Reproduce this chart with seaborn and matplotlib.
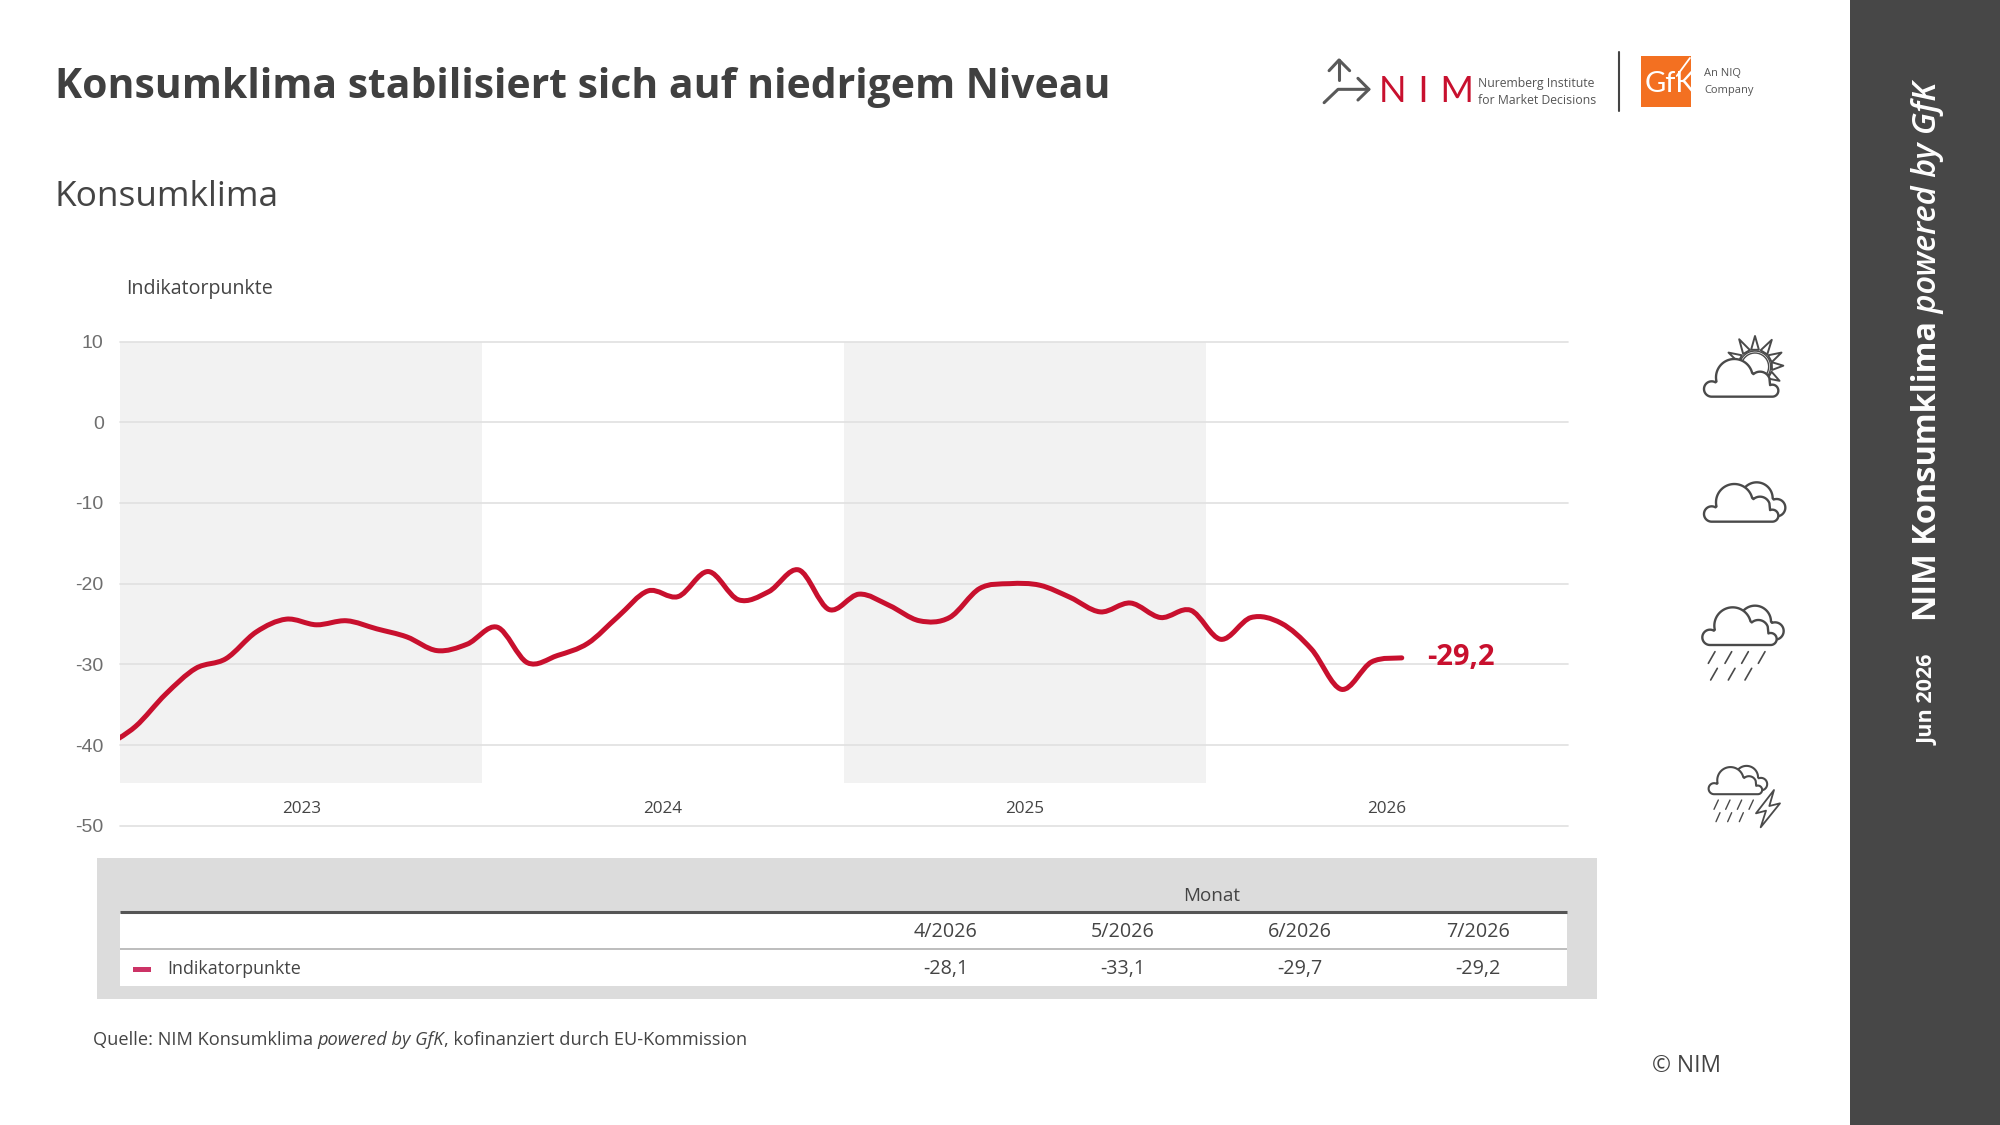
import numpy as np
import pandas as pd
import matplotlib
matplotlib.use("Agg")
import matplotlib.pyplot as plt
from matplotlib.path import Path
from matplotlib.patches import PathPatch, Rectangle, Polygon
import seaborn as sns

# ── 1. Data ──
month_index = np.arange(-1, 43)  # 0 = Jan 2023, -1 only feeds the clipped line start
klima = [-40.2,
         -37.7, -33.7, -30.5, -29.3, -26.0, -24.4, -25.1, -24.6, -25.6, -26.6, -28.3, -27.5,
         -25.4, -29.8, -28.9, -27.4, -24.1, -20.9, -21.6, -18.5, -22.0, -21.0, -18.3, -23.2,
         -21.3, -22.7, -24.6, -24.2, -20.6, -20.0, -20.2, -21.7, -23.5, -22.4, -24.2, -23.3,
         -26.9, -24.2, -24.9, -28.1, -33.1, -29.7, -29.2]
y_ticks = [10, 0, -10, -20, -30, -40, -50]
year_labels = ["2023", "2024", "2025", "2026"]
table_months = ["4/2026", "5/2026", "6/2026", "7/2026"]
table_values = ["-28,1", "-33,1", "-29,7", "-29,2"]

RED = "#c8102e"
TXT = "#444444"
MAIN_FONT = "Open Sans"

sns.set_theme(style="white")
plt.rcParams["font.family"] = [MAIN_FONT, "DejaVu Sans"]

fig = plt.figure(figsize=(20, 11.25), dpi=100)

# ── 2. Pixel layer for everything around the chart ──
bg = fig.add_axes([0, 0, 1, 1], zorder=0)
bg.set_xlim(0, 2000)
bg.set_ylim(1125, 0)
bg.axis("off")
renderer = fig.canvas.get_renderer()


def chain(x, y, pieces, rotation=0, **kw):
    # draws text pieces one after the other, measured so they join up
    for s, extra in pieces:
        t = bg.text(x, y, s, rotation=rotation, rotation_mode="anchor",
                    ha="left", va="center", **kw, **extra)
        box = t.get_window_extent(renderer)
        if rotation == 90:
            y -= box.height
        else:
            x += box.width


def rect(x0, y0, x1, y1, color, z=1):
    bg.add_patch(Rectangle((x0, y0), x1 - x0, y1 - y0, fc=color, ec="none", zorder=z))


rect(1850, 0, 2000, 1125, "#474747")
bg.text(55, 88, "Konsumklima stabilisiert sich auf niedrigem Niveau", fontsize=29.45,
        fontweight="bold", color="#404040", va="center")
bg.text(55, 197, "Konsumklima", fontsize=25.4, color=TXT, va="center")
bg.text(126, 289, "Indikatorpunkte", fontsize=14.1, color=TXT, va="center")

# sidebar
chain(1928, 621, [("NIM Konsumklima", {"fontweight": "bold"}),
                  (" powered by GfK", {"fontstyle": "italic", "fontweight": "semibold"})],
      rotation=90, fontsize=23.4, color="white")
chain(1928, 745, [("Jun 2026", {"fontweight": "bold"})], rotation=90, fontsize=15.6, color="white")

# table
rect(97, 858, 1597, 999, "#dcdcdc")
rect(120, 913, 1567, 986, "white", z=2)
bg.plot([120, 1567], [912, 912], color="#555555", lw=2.2, zorder=3, solid_capstyle="butt")
bg.plot([120, 1567], [948.7, 948.7], color="#bdbdbd", lw=1.4, zorder=3, solid_capstyle="butt")
bg.text(1211.6, 896, "Monat", fontsize=13.6, color=TXT, ha="center", va="center")
for cx, m, v in zip([946, 1123, 1300, 1478], table_months, table_values):
    bg.text(cx, 932, m, fontsize=14.2, color=TXT, ha="center", va="center", zorder=4)
    bg.text(cx, 969, v, fontsize=14.2, color=TXT, ha="center", va="center", zorder=4)
rect(132.6, 966.7, 151, 971.7, "#cc3366", z=4)
bg.text(167.5, 969.5, "Indikatorpunkte", fontsize=12.9, color=TXT, va="center", zorder=4)

chain(93, 1040, [("Quelle: NIM Konsumklima ", {}), ("powered by GfK", {"fontstyle": "italic"}),
                 (", kofinanziert durch EU-Kommission", {})], fontsize=13.15, color=TXT)
bg.text(1652, 1066, "© NIM", fontsize=16.4, color=TXT, va="center")

# ── 3. Logos ──
LOGO = "#595959"


def logo_line(pts, lw=2.2, color=LOGO):
    xs = [1280 + p[0] / 3.015 for p in pts]
    ys = [30 + p[1] / 3 for p in pts]
    bg.plot(xs, ys, color=color, lw=lw, solid_capstyle="round", solid_joinstyle="round", zorder=3)


logo_line([(178, 150), (178, 90)])
logo_line([(148, 122), (178, 90), (210, 122)])
logo_line([(133, 218), (175, 178), (268, 178)])
logo_line([(235, 145), (268, 178), (235, 210)])
bg.text(1379, 92, "N\u2004I\u2004M", fontsize=26, color=RED, va="center",
        family=["Lato", "DejaVu Sans"], fontweight="regular")
bg.text(1478, 84, "Nuremberg Institute", fontsize=8.8, color="#555555", va="center")
bg.text(1478, 100.7, "for Market Decisions", fontsize=8.8, color="#555555", va="center")
bg.plot([1619, 1619], [52, 111], color="#444444", lw=1.5)
rect(1640.5, 56, 1691, 107, "#f37021")
logo_line([(1236, 84), (1196, 138)], lw=1.3, color="white")
bg.text(1645, 84, "GfK", fontsize=21, color="white", va="center", family="Lato",
        fontweight="regular", zorder=3)
bg.text(1704, 74, "An NIQ", fontsize=8, color="#555555", va="center")
bg.text(1704, 90, "Company", fontsize=8, color="#555555", va="center")

# ── 4. Weather icons (coordinates as in a 3x crop starting at 1680/320) ──
ICON = "#4a4a4a"


def arc(cx, cy, r, a0, a1):
    a = np.radians(np.linspace(a0, a1, 40))
    return np.column_stack([cx + r * np.cos(a), cy - r * np.sin(a)])


FRONT = np.vstack([arc(95, 207, 23, 270, 60), arc(163, 172, 55, 193, 14),
                   arc(240, 185, 30, 131, 20), arc(277, 212, 18, 112, -90)])
BACK = np.vstack([arc(230, 160, 48, 170, 0), arc(290, 188, 26, 110, -100)])


def icon_poly(pts, s, ox, oy, z, lw=1.7):
    xy = np.column_stack([1680 + (pts[:, 0] * s + ox) / 3, 320 + (pts[:, 1] * s + oy) / 3])
    bg.add_patch(Polygon(xy, closed=True, fc="white", ec=ICON, lw=lw, zorder=z, joinstyle="round"))


def strokes(segs, lw=1.2):
    for (x0, y0, x1, y1) in segs:
        bg.plot([1680 + x0 / 3, 1680 + x1 / 3], [320 + y0 / 3, 320 + y1 / 3],
                color=ICON, lw=lw, solid_capstyle="round")


# sunny
cx, cy = 225, 140
for ang, tip in [(90, 92), (58, 95), (28, 90), (2, 85), (-30, 85), (120, 95), (152, 90)]:
    a = np.radians(ang)
    da = np.radians(13)
    tri = np.array([[cx + tip * np.cos(a), cy - tip * np.sin(a)],
                    [cx + 52 * np.cos(a - da), cy - 52 * np.sin(a - da)],
                    [cx + 52 * np.cos(a + da), cy - 52 * np.sin(a + da)]])
    icon_poly(tri, 1, 0, 0, 3, lw=1.4)
icon_poly(arc(cx, cy, 47, 0, 360), 1, 0, 0, 4, lw=1.0)
icon_poly(arc(cx, cy, 41, 0, 360), 1, 0, 0, 4, lw=1.0)
icon_poly(FRONT, 1, 0, 0, 5)

# cloudy
icon_poly(BACK, 1, 0, 375, 3)
icon_poly(FRONT, 1, 0, 375, 4)

# rain
icon_poly(BACK, 1, -5, 745, 3)
icon_poly(FRONT, 1, -5, 745, 4)
strokes([(x, 995, x - 20, 1030) for x in (105, 155, 205, 255)])
strokes([(x, 1045, x - 20, 1080) for x in (112, 165, 215)])

# thunderstorm
icon_poly(BACK, 0.72, 34, 1257, 3, lw=1.5)
icon_poly(FRONT, 0.72, 34, 1257, 4, lw=1.5)
strokes([(x, 1440, x - 13, 1468) for x in (115, 150, 185, 220)], lw=1.0)
strokes([(x, 1478, x - 12, 1505) for x in (120, 155, 190)], lw=1.0)
bolt = np.array([[282, 1410], [228, 1480], [258, 1472], [242, 1522], [300, 1450], [268, 1458]], float)
icon_poly(bolt, 1, 0, 0, 4, lw=1.3)

# ── 5. Chart ──
df = pd.DataFrame({"monat": month_index, "wert": klima})
ax = fig.add_axes([120.4 / 2000, 1 - 825.7 / 1125, (1567.6 - 120.4) / 2000, (825.7 - 341.6) / 1125],
                  zorder=1)
ax.patch.set_alpha(0)
sns.lineplot(data=df, x="monat", y="wert", color=RED, ax=ax, sort=False, errorbar=None)

# the original curve is smoothed, so run a Catmull-Rom bezier through the monthly values
base = ax.lines[-1]
p = base.get_xydata()
base.set_visible(False)
ext = np.vstack([p[0], p, p[-1]])
verts = [tuple(p[0])]
codes = [Path.MOVETO]
for i in range(1, len(ext) - 2):
    c1 = ext[i] + (ext[i + 1] - ext[i - 1]) / 6
    c2 = ext[i + 1] - (ext[i + 2] - ext[i]) / 6
    verts += [tuple(c1), tuple(c2), tuple(ext[i + 1])]
    codes += [Path.CURVE4] * 3
ax.add_patch(PathPatch(Path(verts, codes), fc="none", ec=RED, lw=3.6, capstyle="round",
                       joinstyle="round", zorder=4))

ax.set_xlim(-0.5, 47.5)
ax.set_ylim(-50, 10)
band_top = (-44.67 + 50) / 60
for start in (-0.5, 23.5):
    ax.axvspan(start, start + 12, ymin=band_top, ymax=1, color="#f2f2f2", lw=0, zorder=0)

ax.set_yticks(y_ticks)
ax.set_yticklabels([str(v) for v in y_ticks], family="Liberation Sans", fontsize=14, color="#6e6e6e")
ax.set_xticks([5.5, 17.5, 29.5, 41.5])
ax.set_xticklabels(year_labels, fontsize=12.3, color=TXT)
ax.tick_params(axis="x", length=0, pad=-18)
ax.tick_params(axis="y", length=0, pad=12)
ax.yaxis.grid(True, color="#e0e0e0", lw=1.2, zorder=1)
ax.xaxis.grid(False)
ax.set_axisbelow(True)
for gl in ax.get_ygridlines():
    gl.set_clip_on(False)
ax.set_xlabel("")
ax.set_ylabel("")
sns.despine(ax=ax, left=True, bottom=True)

ax.annotate("-29,2", xy=(month_index[-1], klima[-1]), xytext=(18, 0.5), textcoords="offset points",
            color=RED, fontsize=21, fontweight="bold", va="center", annotation_clip=False)

fig.savefig("out.png", dpi=100)
